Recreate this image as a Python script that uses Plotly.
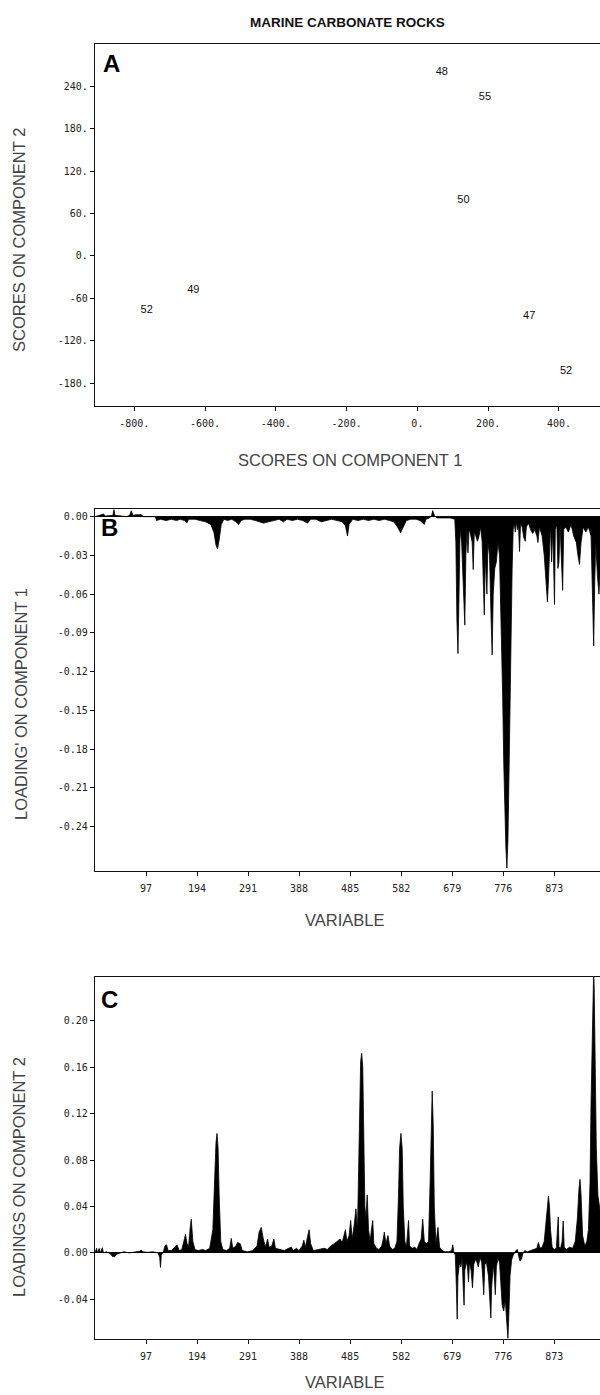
import plotly.graph_objects as go

W, H = 600, 1395


def fx(p):
    return p / W


def fy(p):
    return 1 - p / H


# ---- Panel A: sample scores on the first two components ----
sample_ids = ["48", "55", "50", "49", "52", "47", "52"]
score_pc1 = [69, 191, 130, -633, -765, 316, 420]
score_pc2 = [260, 224, 79, -49, -77, -85, -163]

a_xticks = [-800, -600, -400, -200, 0, 200, 400]
a_xlabels = ["-800.", "-600.", "-400.", "-200.", "0.", "200.", "400."]
a_yticks = [240, 180, 120, 60, 0, -60, -120, -180]
a_ylabels = ["240.", "180.", "120.", "60.", "0.", "-60", "-120.", "-180."]

# ---- Panel B: loadings on component 1 ----
b_var = [0, 10, 16, 20, 30, 34, 36, 38, 50, 60, 66, 69, 72, 78, 88, 92, 115,
         117, 125, 135, 145, 155, 162, 170, 175, 178, 190, 200, 210,
         220, 226, 230, 233, 236, 240, 245, 252, 260, 268, 273, 278, 285, 295,
         305, 313, 320, 330, 340, 350, 358, 365, 375, 385, 395, 404, 410, 420,
         430, 440, 450, 460, 470, 476, 480, 483, 490, 500, 510, 520, 530, 540,
         550, 560, 568, 575, 581, 586, 592, 600, 610, 618, 623, 626, 629, 636,
         640, 642, 645, 650, 660, 675, 684,
         686, 688, 690, 692, 694, 697, 700, 703, 705, 707, 709, 711, 713, 717,
         719, 721, 724, 727, 730, 733, 736, 738, 740, 742, 745, 747, 750, 753,
         755, 757, 760, 763, 766, 769, 771, 773, 775, 777, 779, 781, 783, 785,
         787, 789, 791, 793, 795, 797, 799, 801, 803, 805, 807, 809, 812, 815,
         818, 820, 824, 828, 832, 836, 840, 842, 845, 850, 854, 857, 860, 862,
         864, 866, 868, 870, 872, 873.5, 875, 878, 880, 882, 884, 887, 889, 891,
         895, 900, 905, 910, 915, 918, 921, 924, 928, 933, 938, 943, 945, 948,
         950, 952, 955, 958, 962]
b_load = [0.0, 0.001, 0.002, 0.0005, 0.001, 0.001, 0.0055, 0.001, 0.0005, 0.0,
          0.001, 0.0045, 0.001, 0.0015, 0.0015, 0.0, 0.0,
          -0.003, -0.002, -0.003, -0.002, -0.003, -0.002, -0.003, -0.0047, -0.002,
          -0.002, -0.003, -0.004,
          -0.006, -0.012, -0.022, -0.025, -0.018, -0.006, -0.002, -0.003, -0.002,
          -0.004, -0.006, -0.003, -0.002, -0.002,
          -0.003, -0.004, -0.005, -0.004, -0.003, -0.002, -0.004, -0.002, -0.003,
          -0.002, -0.003, -0.005, -0.002, -0.002,
          -0.004, -0.003, -0.002, -0.003, -0.004, -0.007, -0.015, -0.006, -0.002,
          -0.003, -0.002, -0.003, -0.002, -0.003,
          -0.002, -0.003, -0.004, -0.008, -0.0125, -0.008, -0.003, -0.002, -0.002,
          -0.003, -0.005, -0.006, -0.002, -0.001,
          0.001, 0.0047, 0.001, -0.001, -0.001, -0.001, -0.002,
          -0.02, -0.08, -0.106, -0.06, -0.01, -0.02, -0.06, -0.084, -0.03, -0.01,
          -0.028, -0.01, -0.012, -0.02,
          -0.041, -0.012, -0.015, -0.019, -0.015, -0.008, -0.02, -0.05, -0.076,
          -0.03, -0.06, -0.02, -0.03, -0.08,
          -0.107, -0.06, -0.04, -0.035, -0.02, -0.03, -0.06, -0.1, -0.14, -0.19,
          -0.23, -0.255, -0.272, -0.25,
          -0.2, -0.14, -0.09, -0.04, -0.01, -0.005, -0.012, -0.004, -0.01, -0.006,
          -0.027, -0.005, -0.008, -0.016,
          -0.019, -0.008, -0.005, -0.01, -0.013, -0.01, -0.015, -0.02, -0.008,
          -0.015, -0.03, -0.05, -0.066, -0.05,
          -0.02, -0.006, -0.035, -0.01, -0.04, -0.068, -0.01, -0.006, -0.04,
          -0.035, -0.006, -0.03, -0.057, -0.01,
          -0.008, -0.012, -0.006, -0.015, -0.02, -0.03, -0.037, -0.02, -0.008,
          -0.012, -0.008, -0.015, -0.05, -0.1,
          -0.05, -0.02, -0.045, -0.06, -0.03]
b_yticks = [0.0, -0.03, -0.06, -0.09, -0.12, -0.15, -0.18, -0.21, -0.24]
b_ylabels = ["0.00", "-0.03", "-0.06", "-0.09", "-0.12", "-0.15", "-0.18",
             "-0.21", "-0.24"]

# ---- Panel C: loadings on component 2 ----
c_var = [0, 3, 5, 8, 10, 14, 16, 22, 30, 33, 38, 41, 48, 55, 65, 75, 85, 88,
         91, 100, 110, 120, 123, 124.5, 126, 130, 133, 136, 139, 145, 152, 156,
         160, 165, 170, 172, 175, 178, 181, 183, 186, 190, 196, 205, 210, 218,
         224, 227, 230, 232, 234, 236, 239, 243, 250, 256, 259, 262, 268, 271,
         276, 280, 290, 300, 308, 312, 316, 320, 324, 328, 331, 336, 340, 343,
         350, 360, 368, 373, 377, 383, 388, 394, 397, 400, 404, 407, 410, 415,
         425, 435, 442, 448, 455, 460, 466, 470, 473, 476, 479, 483, 486, 489,
         493, 496, 499, 501, 503, 505, 507, 509, 511, 513, 515, 517.5, 520, 523,
         526, 528, 530, 535, 540, 545, 548, 550, 553, 557, 560, 565, 570, 574,
         577, 579, 581.5, 584, 586, 589, 592, 596, 598, 603, 608, 612, 616, 620,
         623, 626, 630, 634, 637, 639, 641, 643, 645, 648, 652, 655, 660, 665,
         672, 678, 680, 682, 685, 687, 688.5, 690, 693, 695.6, 698, 700, 701.6,
         703, 706, 708, 710, 712, 715, 717.6, 720, 724, 728.6, 732, 735, 737,
         739, 741, 744, 748, 750, 752.5, 754, 757, 759, 761, 763, 766, 769, 771,
         774, 777, 780, 782, 785, 787, 789, 792, 795, 800, 803, 806, 808, 811,
         813, 817, 822, 828, 834, 840, 843, 846, 850, 854, 857, 860, 862, 864,
         866, 869, 873, 877, 879, 880.6, 882, 885, 888, 890, 892, 896, 902, 908,
         913, 917, 920, 922, 924, 927, 931, 935, 938, 941, 943, 945, 947, 948,
         949, 951, 953, 956, 962]
c_load = [0.0, 0.004, 0.0, 0.004, 0.0, 0.0045, 0.0, 0.001, -0.001, -0.003,
          -0.003, -0.001, 0.0, 0.001, 0.0, 0.001, 0.0015, 0.0025,
          0.001, 0.0005, 0.001, 0.0, -0.004, -0.0125, -0.002, 0.001, 0.006, 0.007,
          0.002, 0.002, 0.005, 0.007,
          0.002, 0.003, 0.012, 0.016, 0.008, 0.006, 0.022, 0.029, 0.01, 0.003,
          0.002, 0.003, 0.002, 0.004,
          0.02, 0.06, 0.095, 0.103, 0.09, 0.05, 0.01, 0.003, 0.002, 0.004, 0.0125,
          0.004, 0.006, 0.009,
          0.008, 0.002, 0.001, 0.002, 0.006, 0.018, 0.022, 0.012, 0.005, 0.012,
          0.005, 0.006, 0.012, 0.004,
          0.003, 0.002, 0.004, 0.005, 0.002, 0.004, 0.002, 0.006, 0.011, 0.005,
          0.014, 0.02, 0.008, 0.002,
          0.003, 0.004, 0.003, 0.006, 0.008, 0.01, 0.012, 0.009, 0.014, 0.02,
          0.01, 0.015, 0.028, 0.012,
          0.025, 0.038, 0.02, 0.06, 0.12, 0.165, 0.172, 0.16, 0.1, 0.04, 0.03,
          0.05, 0.02, 0.01,
          0.022, 0.028, 0.008, 0.004, 0.003, 0.006, 0.012, 0.018, 0.008, 0.015,
          0.006, 0.003, 0.004, 0.01,
          0.05, 0.09, 0.103, 0.09, 0.04, 0.01, 0.005, 0.028, 0.006, 0.004, 0.005,
          0.003, 0.008, 0.012,
          0.029, 0.01, 0.008, 0.01, 0.06, 0.12, 0.1395, 0.11, 0.04, 0.008, 0.022,
          0.005, 0.002, 0.001,
          0.001, 0.002, 0.007, 0.001, -0.002, -0.03, -0.057, -0.02, -0.008,
          -0.012, -0.004, -0.03, -0.045,
          -0.015, -0.008, -0.012, -0.025, -0.008, -0.015, -0.03, -0.01, -0.005,
          -0.012, -0.004, -0.008, -0.02,
          -0.036, -0.01, -0.008, -0.02, -0.04, -0.056, -0.03, -0.01, -0.02,
          -0.036, -0.012, -0.005, -0.008, -0.02,
          -0.045, -0.05, -0.04, -0.055, -0.0736, -0.05, -0.02, -0.006, -0.002,
          0.002, 0.003, -0.004, -0.007, -0.005,
          -0.001, 0.002, 0.001, 0.002, 0.003, 0.004, 0.009, 0.004, 0.005, 0.01,
          0.025, 0.042, 0.049, 0.04,
          0.02, 0.005, 0.003, 0.004, 0.015, 0.031, 0.005, 0.004, 0.01, 0.0275,
          0.005, 0.003, 0.005, 0.004,
          0.01, 0.03, 0.055, 0.0634, 0.05, 0.015, 0.006, 0.01, 0.02, 0.06, 0.13,
          0.2, 0.228, 0.245,
          0.228, 0.17, 0.09, 0.05, 0.03]
c_yticks = [0.20, 0.16, 0.12, 0.08, 0.04, 0.0, -0.04]
c_ylabels = ["0.20", "0.16", "0.12", "0.08", "0.04", "0.00", "-0.04"]

var_ticks = [97, 194, 291, 388, 485, 582, 679, 776, 873]
var_labels = [str(v) for v in var_ticks]

INK = "#111111"
TICK_FONT = dict(family="DejaVu Sans Mono, monospace", size=10, color="#222222")
LABEL_FONT = dict(family="Liberation Sans, Arial, sans-serif", size=16.5, color="#444444")

fig = go.Figure()

fig.add_trace(go.Scatter(
    x=score_pc1, y=score_pc2, mode="text", text=sample_ids,
    textfont=dict(family="Liberation Sans, Arial, sans-serif", size=11, color=INK),
    xaxis="x", yaxis="y", showlegend=False, hoverinfo="skip"))

fig.add_trace(go.Scatter(
    x=b_var, y=b_load, mode="lines", fill="tozeroy",
    line=dict(color="black", width=0.8), fillcolor="black",
    xaxis="x2", yaxis="y2", showlegend=False, hoverinfo="skip"))

fig.add_trace(go.Scatter(
    x=c_var, y=c_load, mode="lines", fill="tozeroy",
    line=dict(color="black", width=0.8), fillcolor="black",
    xaxis="x3", yaxis="y3", showlegend=False, hoverinfo="skip"))

common = dict(showline=True, linecolor=INK, linewidth=1.3, ticks="outside",
              ticklen=4, tickwidth=1.2, tickcolor=INK, showgrid=False,
              zeroline=False, tickfont=TICK_FONT, tickmode="array",
              fixedrange=True)

XDOM = [fx(95), 1.0]

fig.update_layout(
    width=W, height=H, margin=dict(l=0, r=0, t=0, b=0),
    paper_bgcolor="white", plot_bgcolor="white", showlegend=False,
    xaxis=dict(common, domain=XDOM, anchor="y", range=[-911, 516],
               mirror=True, tickvals=a_xticks, ticktext=a_xlabels,
               ticklabelstandoff=4),
    yaxis=dict(common, domain=[fy(406), fy(44)], anchor="x",
               range=[-212, 299.5], tickvals=a_yticks, ticktext=a_ylabels),
    xaxis2=dict(common, domain=XDOM, anchor="y2", range=[0, 960],
                mirror=True, tickvals=var_ticks, ticktext=var_labels,
                ticklabelstandoff=4),
    yaxis2=dict(common, domain=[fy(871), fy(509.3)], anchor="x2",
                range=[-0.2743, 0.0057], tickvals=b_yticks, ticktext=b_ylabels,
                zeroline=True, zerolinecolor=INK, zerolinewidth=1.3),
    xaxis3=dict(common, domain=XDOM, anchor="y3", range=[0, 960],
                mirror=True, tickvals=var_ticks, ticktext=var_labels,
                ticklabelstandoff=4),
    yaxis3=dict(common, domain=[fy(1338.7), fy(976.7)], anchor="x3",
                range=[-0.0739, 0.238], tickvals=c_yticks, ticktext=c_ylabels,
                zeroline=True, zerolinecolor=INK, zerolinewidth=1.3),
)


def note(text, x, y, font, angle=0):
    fig.add_annotation(text=text, x=fx(x), y=fy(y), xref="paper", yref="paper",
                       showarrow=False, xanchor="center", yanchor="middle",
                       textangle=angle, font=font)


note("<b>MARINE CARBONATE ROCKS</b>", 347, 22,
     dict(family="Liberation Sans, Arial, sans-serif", size=13.5, color=INK))

PANEL_FONT = dict(family="Liberation Sans, Arial, sans-serif", size=24, color="black")
note("<b>A</b>", 111, 63, PANEL_FONT)
note("<b>B</b>", 109, 528, PANEL_FONT)
note("<b>C</b>", 110, 999, PANEL_FONT)

note("SCORES ON COMPONENT 2", 19, 240, LABEL_FONT, -90)
note("SCORES ON COMPONENT 1", 350, 460, LABEL_FONT)
note("LOADING' ON COMPONENT 1", 21, 704, LABEL_FONT, -90)
note("VARIABLE", 344, 920, LABEL_FONT)
note("LOADINGS ON COMPONENT 2", 19, 1177, LABEL_FONT, -90)
note("VARIABLE", 344, 1382, LABEL_FONT)

fig.write_html("out.html")
